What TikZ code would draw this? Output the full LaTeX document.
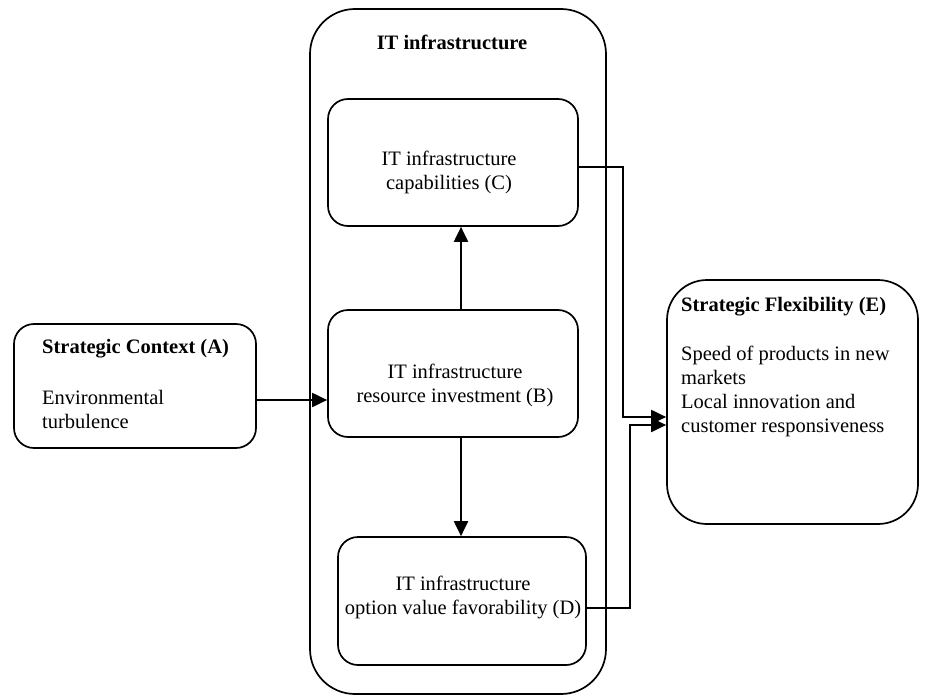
\documentclass[tikz,border=0pt]{standalone}
\usepackage{fontspec}
\setmainfont{Liberation Serif}
\usetikzlibrary{arrows.meta,calc}
\begin{document}
\begin{tikzpicture}[x=1pt,y=-1pt,
  box/.style={draw,line width=1.7pt,rounded corners=20pt,inner sep=0pt},
  txt/.style={font=\fontsize{20.5}{24}\selectfont,inner sep=0pt,align=center},
  ltxt/.style={font=\fontsize{20.5}{24}\selectfont,inner sep=0pt,align=left,anchor=west},
  arr/.style={line width=2pt,-{Triangle[length=15pt,width=14pt]}},
  ln/.style={line width=2pt}]
\useasboundingbox (0,0) rectangle (928,698);
% boxes
\node[box,rounded corners=45pt,minimum width=296pt,minimum height=685pt] (IT) at (458,351.5) {};
\node[box,minimum width=250pt,minimum height=127pt] (C) at (453,162.5) {};
\node[box,minimum width=250pt,minimum height=127pt] (B) at (453,373.5) {};
\node[box,minimum width=248pt,minimum height=128pt] (D) at (462,601) {};
\node[box,minimum width=242pt,minimum height=124pt] (A) at (135,386) {};
\node[box,rounded corners=40pt,minimum width=251pt,minimum height=244pt] (E) at (792.5,402) {};
% texts
\node[txt,font=\fontsize{20.5}{24}\selectfont\bfseries] (ITt) at (452,42) {IT infrastructure};
\node[txt] (Ct) at (449,172) {IT infrastructure\\capabilities (C)};
\node[txt] (Bt) at (455,385) {IT infrastructure\\resource investment (B)};
\node[txt] (Dt) at (463,597) {IT infrastructure\\option value favorability (D)};
\node[ltxt,font=\fontsize{20.5}{24}\selectfont\bfseries] (At1) at (42,349) {Strategic Context (A)};
\node[ltxt] (At2) at (42,409) {Environmental\\turbulence};
\node[ltxt,font=\fontsize{20.5}{24}\selectfont\bfseries] (Et1) at (681,307) {Strategic Flexibility (E)};
\node[ltxt] (Et2) at (681,391) {Speed of products in new\\markets\\Local innovation and\\customer responsiveness};
% connectors
\draw[arr] (A.east |- 0,400) -- (B.west |- 0,400);
\draw[arr] (B.north -| 461,0) -- (C.south -| 461,0);
\draw[arr] (B.south -| 461,0) -- (D.north -| 461,0);
\draw[arr] (C.east |- 0,167) -- (623,167) -- (623,417) -- (E.west |- 0,417);
\draw[arr] (D.east |- 0,608) -- (630,608) -- (630,425) -- (E.west |- 0,425);
\end{tikzpicture}
\end{document}
